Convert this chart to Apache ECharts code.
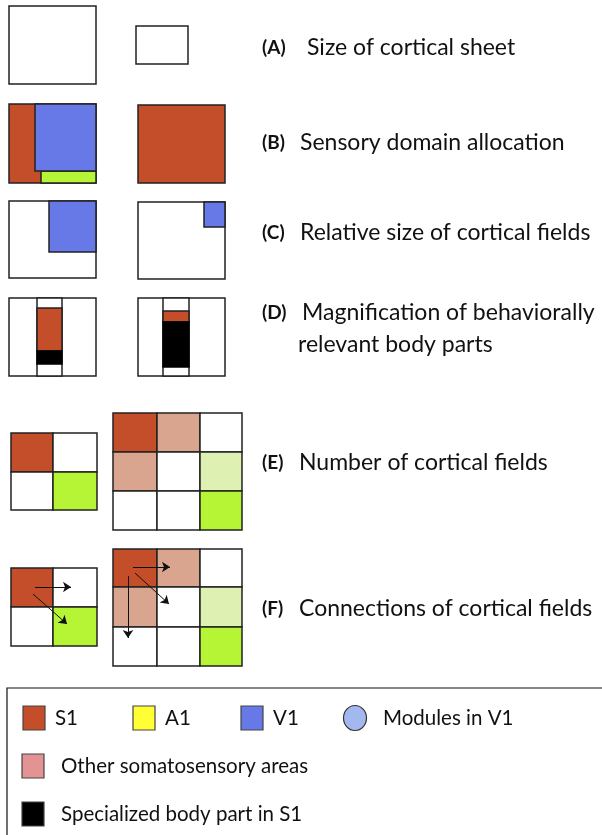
<!DOCTYPE html>
<html>
<head>
<meta charset="utf-8">
<script src="https://cdn.jsdelivr.net/npm/echarts@6/dist/echarts.min.js"></script>
<style>
  html, body { margin: 0; padding: 0; background: #fff; }
  #main { width: 602px; height: 835px; }
</style>
</head>
<body>
<div id="main"></div>
<script>
// --- data: rectangles as [x0, y0, x1, y1, kind] in diagram units ---
const sheetA = [[9, 6, 96, 84, 'none'], [136, 26, 188, 64, 'none']];
const domainB = [
  [9, 104, 96, 183, 's1'], [41, 171, 96, 183, 'green'], [35, 104, 96, 171, 'v1'],
  [138, 105, 225, 183, 's1']
];
const fieldsC = [
  [9, 201, 96, 278, 'none'], [49, 201, 96, 252, 'v1'],
  [138, 202, 225, 279, 'none'], [204, 202, 225, 227, 'v1']
];
const magnifyD = [
  [9, 298, 96, 376, 'none'], [37, 298, 62, 376, 'none'], [37, 308, 62, 351, 's1'], [37, 351, 62, 364, 'body'],
  [138, 298, 225, 376, 'none'], [163, 298, 189, 376, 'none'], [163, 311, 189, 322, 's1'], [163, 322, 189, 367, 'body']
];

// grids: column edges, row edges, cell kinds
const smallFill = [['s1', 'none'], ['none', 'green']];
const bigFill = [['s1', 'other', 'none'], ['other', 'none', 'pale'], ['none', 'none', 'green']];
const gridE1 = { xs: [11, 53, 97], ys: [433, 472, 510], fill: smallFill };
const gridE2 = { xs: [113, 157, 200, 242], ys: [413, 452, 491, 530], fill: bigFill };
const gridF1 = { xs: [11, 53, 97], ys: [568, 607, 646], fill: smallFill };
const gridF2 = { xs: [113, 157, 200, 242], ys: [549, 587, 627, 666], fill: bigFill };

// connection arrows
const arrowsF = [
  [[35, 587], [71, 587]], [[33, 594], [67, 624]],
  [[133, 567], [170, 567]], [[135, 573], [169, 604]], [[128, 576], [128, 638]]
];

// panel labels
const panelTags = ['(A)', '(B)', '(C)', '(D)', '(E)', '(F)'];
const panelTexts = [
  ['Size of cortical sheet'], ['Sensory domain allocation'], ['Relative size of cortical fields'],
  ['Magnification of behaviorally', 'relevant body parts'], ['Number of cortical fields'],
  ['Connections of cortical fields']
];
const panelY = [48, 143, 233, 313, 463, 609];
const panelTextX = [307, 300, 300, 302, 299, 299];

// legend
const legendKinds = ['s1', 'a1', 'v1', 'module', 'otherLeg', 'body'];
const legendLabels = ['S1', 'A1', 'V1', 'Modules in V1', 'Other somatosensory areas', 'Specialized body part in S1'];
const legendPos = [[34, 718], [144, 718], [252, 718], [355, 718], [33, 766], [33, 814]];

const colors = {
  none: '#ffffff', s1: '#c44e2a', v1: '#6679e6', green: '#b5f535', other: '#d9a58f',
  pale: '#dff0b3', body: '#000000', a1: '#ffff33', module: '#a3b8ef', otherLeg: '#e39393'
};

// build rect list
const rects = [].concat(sheetA, domainB, fieldsC, magnifyD);
[gridE1, gridE2, gridF1, gridF2].forEach(g => {
  for (let r = 0; r < g.ys.length - 1; r++) {
    for (let c = 0; c < g.xs.length - 1; c++) {
      rects.push([g.xs[c], g.ys[r], g.xs[c + 1], g.ys[r + 1], g.fill[r][c]]);
    }
  }
});

const texts = [];
panelTags.forEach((t, i) => {
  texts.push([262, panelY[i], t, 'tag']);
  panelTexts[i].forEach((line, j) => {
    texts.push([j === 0 ? panelTextX[i] : 298, panelY[i] + j * 32, line, 'main']);
  });
});
legendLabels.forEach((l, i) => {
  const x = legendPos[i][0] + (i >= 3 ? 28 : 21);
  texts.push([x, legendPos[i][1], l, 'legend']);
});

const fonts = {
  tag: 'bold 19px Lato',
  main: '23px Lato',
  legend: '20.5px Lato'
};

const chart = echarts.init(document.getElementById('main'), null, { renderer: 'canvas' });
chart.setOption({
  animation: false,
  grid: { left: 0, right: 0, top: 0, bottom: 0 },
  xAxis: { type: 'value', min: 0, max: 602, show: false },
  yAxis: { type: 'value', min: 0, max: 835, inverse: true, show: false },
  series: [
    {
      // legend frame
      type: 'custom',
      data: [[7, 688, 640, 860]],
      renderItem: (params, api) => {
        const p0 = api.coord([api.value(0), api.value(1)]);
        const p1 = api.coord([api.value(2), api.value(3)]);
        return {
          type: 'rect',
          shape: { x: p0[0], y: p0[1], width: p1[0] - p0[0], height: p1[1] - p0[1] },
          style: { fill: 'none', stroke: '#111', lineWidth: 1.2 }
        };
      }
    },
    {
      type: 'custom',
      data: rects,
      renderItem: (params, api) => {
        const p0 = api.coord([api.value(0), api.value(1)]);
        const p1 = api.coord([api.value(2), api.value(3)]);
        const kind = rects[params.dataIndex][4];
        return {
          type: 'rect',
          shape: { x: p0[0], y: p0[1], width: p1[0] - p0[0], height: p1[1] - p0[1] },
          style: { fill: colors[kind], stroke: kind === 'body' ? '#000' : '#222', lineWidth: 1.5 }
        };
      }
    },
    {
      type: 'lines',
      coordinateSystem: 'cartesian2d',
      symbol: ['none', 'arrow'],
      symbolSize: 8,
      lineStyle: { color: '#111', width: 1, opacity: 1 },
      data: arrowsF.map(a => ({ coords: a }))
    },
    {
      // legend swatches
      type: 'custom',
      data: legendPos.map((p, i) => [p[0], p[1], i]),
      renderItem: (params, api) => {
        const c = api.coord([api.value(0), api.value(1)]);
        const kind = legendKinds[params.dataIndex];
        if (kind === 'module') {
          return {
            type: 'ellipse',
            shape: { cx: c[0], cy: c[1], rx: 11.5, ry: 12.5 },
            style: { fill: colors[kind], stroke: '#333', lineWidth: 1.2 }
          };
        }
        return {
          type: 'rect',
          shape: { x: c[0] - 11, y: c[1] - 12, width: 22, height: 24 },
          style: { fill: colors[kind], stroke: '#444', lineWidth: 1.2 }
        };
      }
    },
    {
      type: 'custom',
      data: texts,
      renderItem: (params, api) => {
        const c = api.coord([api.value(0), api.value(1)]);
        const t = texts[params.dataIndex];
        return {
          type: 'text',
          x: c[0], y: c[1],
          style: { text: t[2], font: fonts[t[3]], fill: '#111', align: 'left', verticalAlign: 'middle' }
        };
      }
    }
  ]
});
</script>
</body>
</html>
